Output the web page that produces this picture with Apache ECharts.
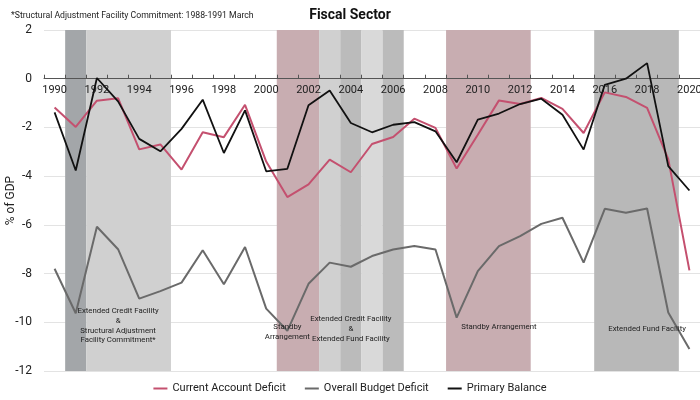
<!DOCTYPE html>
<html><head><meta charset="utf-8">
<script src="https://cdn.jsdelivr.net/npm/echarts@6/dist/echarts.min.js"></script>
<style>html,body{margin:0;padding:0;background:#fff}#c{width:700px;height:400px}</style>
</head><body><div id="c"></div>
<script>
const years = ['1990','1991','1992','1993','1994','1995','1996','1997','1998','1999','2000','2001','2002','2003','2004','2005','2006','2007','2008','2009','2010','2011','2012','2013','2014','2015','2016','2017','2018','2019','2020'];
const currentAccountDeficit = [-1.18,-1.98,-0.9,-0.8,-2.9,-2.7,-3.73,-2.2,-2.4,-1.07,-3.4,-4.86,-4.34,-3.32,-3.84,-2.68,-2.39,-1.64,-2.02,-3.69,-2.3,-0.89,-1.04,-0.79,-1.24,-2.23,-0.56,-0.75,-1.2,-3.3,-7.87];
const overallBudgetDeficit = [-7.8,-9.63,-6.08,-7.0,-9.03,-8.72,-8.37,-7.04,-8.44,-6.91,-9.44,-10.35,-8.42,-7.55,-7.72,-7.28,-7.01,-6.87,-7.01,-9.81,-7.9,-6.87,-6.46,-5.96,-5.71,-7.55,-5.34,-5.5,-5.33,-9.6,-11.1];
const primaryBalance = [-1.38,-3.77,0.03,-0.93,-2.47,-2.98,-2.06,-0.86,-3.05,-1.3,-3.8,-3.7,-1.09,-0.48,-1.82,-2.2,-1.89,-1.78,-2.16,-3.43,-1.68,-1.43,-1.04,-0.82,-1.48,-2.91,-0.25,0.0,0.64,-3.59,-4.59];
const yTicks = [-12,-10,-8,-6,-4,-2,0,2];
// programme periods: [first year, last year, kind]
const programmes = [
  [1991,1991,'saf'],
  [1992,1995,'ecf'],
  [2001,2002,'sba'],
  [2003,2003,'ecf'],
  [2004,2004,'eff'],
  [2005,2005,'ecfLight'],
  [2006,2006,'eff'],
  [2009,2012,'sba'],
  [2016,2019,'eff2']
];
const annotationTexts = [
  'Extended Credit Facility\n&\nStructural Adjustment\nFacility Commitment*',
  'Standby\nArrangement',
  'Extended Credit Facility\n&\nExtended Fund Facility',
  'Standby Arrangement',
  'Extended Fund Facility'
];
const annotationAnchors = [[1993,-10.14],[2001.43,-10.41],[2004.39,-10.29],[2010.5,-10.2],[2017.57,-10.29]];

const bandColors = {saf:'#a3a6a9', ecf:'#d0d0d0', sba:'#c8adb1', eff:'#bbbbbb', ecfLight:'#d9d9d9', eff2:'#b8b8b8'};
const FONT = 'Roboto, "Liberation Sans", sans-serif';
const firstYear = Number(years[0]);
const yMin = yTicks[0], yMax = yTicks[yTicks.length - 1];
const chart = echarts.init(document.getElementById('c'));
chart.setOption({
  animation: false,
  textStyle: {fontFamily: FONT},
  title: [
    {text: 'Fiscal Sector', left: 'center', top: 3, textStyle: {fontSize: 14, fontWeight: 'bold', color: '#111', fontFamily: FONT}},
    {text: '*Structural Adjustment Facility Commitment: 1988-1991 March', left: 6, top: 6, textStyle: {fontSize: 8.7, fontWeight: 'normal', color: '#222', fontFamily: FONT}}
  ],
  legend: {
    bottom: 1, left: 'center', icon: 'rect', itemWidth: 14, itemHeight: 2, itemGap: 19,
    textStyle: {fontSize: 11, color: '#222', fontFamily: FONT},
    data: ['Current Account Deficit', 'Overall Budget Deficit', 'Primary Balance']
  },
  grid: {left: 44, right: 0, top: 30, bottom: 29, containLabel: false, outerBoundsMode: 'none'},
  xAxis: {type: 'category', data: years, boundaryGap: true, z: 3,
     axisLine: {onZero: false, lineStyle: {color: '#555', width: 1}},
     axisTick: {show: true, inside: true, length: 4, interval: 0, lineStyle: {color: '#555'}},
     axisLabel: {interval: 1, fontSize: 11, color: '#222', margin: 6, fontFamily: FONT, hideOverlap: false},
     splitLine: {show: false}},
  yAxis: {
    type: 'value', min: yMin, max: yMax, interval: 2,
    name: '% of GDP', nameLocation: 'middle', nameGap: 27, nameRotate: 90, nameMoveOverlap: false,
    nameTextStyle: {fontSize: 12, color: '#222', fontFamily: FONT},
    axisLine: {show: false}, axisTick: {show: false},
    axisLabel: {fontSize: 12, color: '#222', margin: 12, fontFamily: FONT},
    splitLine: {lineStyle: {color: '#e3e3e3'}}
  },
  series: [
    {type: 'custom', name: 'bands', silent: true, z: 1,
     encode: {x: [0, 1], y: [2, 3]},
     data: programmes.map(p => [p[0] - firstYear, p[1] - firstYear, yMax, yMin]),
     renderItem: (params, api) => {
       const a = api.coord([api.value(0), api.value(2)]);
       const b = api.coord([api.value(1), api.value(3)]);
       const half = api.size([1, 0])[0] / 2;
       return {type: 'rect', shape: {x: a[0] - half, y: a[1], width: b[0] - a[0] + 2 * half, height: b[1] - a[1]},
               style: {fill: bandColors[programmes[params.dataIndex][2]]}};
     }},
    {type: 'custom', name: 'notes', silent: true, z: 6,
     encode: {x: 0, y: 1},
     data: annotationAnchors.map(a => [a[0] - firstYear, a[1]]),
     renderItem: (params, api) => {
       const p = api.coord([api.value(0), api.value(1)]);
       return {type: 'text', x: p[0], y: p[1],
               style: {text: annotationTexts[params.dataIndex], align: 'center', verticalAlign: 'middle',
                       fontSize: 7.8, lineHeight: 9.8, fill: '#222', fontFamily: FONT}};
     }},
    {type: 'line', name: 'Current Account Deficit', data: currentAccountDeficit, symbol: 'none', z: 4,
     lineStyle: {color: '#c4506f', width: 2}, itemStyle: {color: '#c4506f'}},
    {type: 'line', name: 'Overall Budget Deficit', data: overallBudgetDeficit, symbol: 'none', z: 4,
     lineStyle: {color: '#6a6a6a', width: 2}, itemStyle: {color: '#6a6a6a'}},
    {type: 'line', name: 'Primary Balance', data: primaryBalance, symbol: 'none', z: 5,
     lineStyle: {color: '#111', width: 1.8}, itemStyle: {color: '#111'}}
  ]
});
// place the category axis on the zero line, using the value axis scale
const zeroPx = chart.convertToPixel({yAxisIndex: 0}, 0);
const bottomPx = chart.convertToPixel({yAxisIndex: 0}, yMin);
chart.setOption({xAxis: {offset: zeroPx - bottomPx}});
</script></body></html>
